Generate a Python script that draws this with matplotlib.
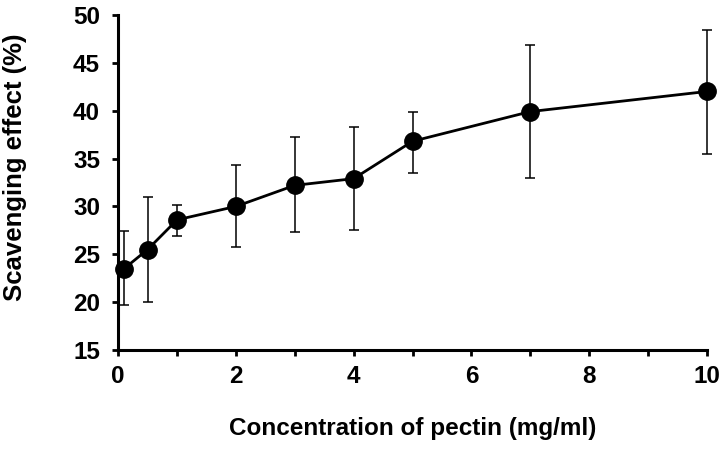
import matplotlib
matplotlib.use("Agg")
import matplotlib.pyplot as plt
from matplotlib.ticker import MultipleLocator

conc = [0.1, 0.5, 1, 2, 3, 4, 5, 7, 10]
effect = [23.5, 25.5, 28.6, 30.0, 32.2, 32.9, 36.8, 39.9, 42.0]
err_low = [19.7, 20.0, 26.9, 25.8, 27.3, 27.5, 33.5, 33.0, 35.5]
err_high = [27.4, 31.0, 30.2, 34.3, 37.2, 38.3, 39.9, 46.9, 48.4]

yerr = [[e - l for e, l in zip(effect, err_low)], [h - e for e, h in zip(effect, err_high)]]

plt.rcParams['font.family'] = ['Liberation Sans', 'DejaVu Sans']
plt.rcParams['font.weight'] = 'bold'

fig = plt.figure(figsize=(7.25, 4.5), dpi=100)
ax = fig.add_axes([0.163, 0.222, 0.812, 0.745])

ax.errorbar(conc, effect, yerr=yerr, fmt='none', ecolor='black', elinewidth=1.1,
            capsize=3.8, capthick=1.1, zorder=2, clip_on=False)
ax.plot(conc, effect, color='black', linewidth=2, marker='o', markersize=12.5,
        zorder=3, clip_on=False)

ax.set_xlim(0, 10)
ax.set_ylim(15, 50)
ax.xaxis.set_major_locator(MultipleLocator(2))
ax.xaxis.set_minor_locator(MultipleLocator(1))
ax.yaxis.set_major_locator(MultipleLocator(5))

for s in ['top', 'right']:
    ax.spines[s].set_visible(False)
for s in ['left', 'bottom']:
    ax.spines[s].set_linewidth(2.2)

ax.tick_params(axis='both', which='both', direction='out', width=2, length=4, labelsize=17.5)
ax.tick_params(axis='x', which='both', pad=7)
ax.tick_params(axis='y', pad=9)
for lab in ax.get_xticklabels() + ax.get_yticklabels():
    lab.set_fontweight('bold')

ax.set_xlabel('Concentration of pectin (mg/ml)', fontsize=17.5, fontweight='bold', va='center')
ax.set_ylabel('Scavenging effect (%)', fontsize=18.5, fontweight='bold', va='center')
ax.xaxis.set_label_coords(0.5, -0.233)
ax.yaxis.set_label_coords(-0.176, 0.545)

fig.savefig('out.png', dpi=100)
